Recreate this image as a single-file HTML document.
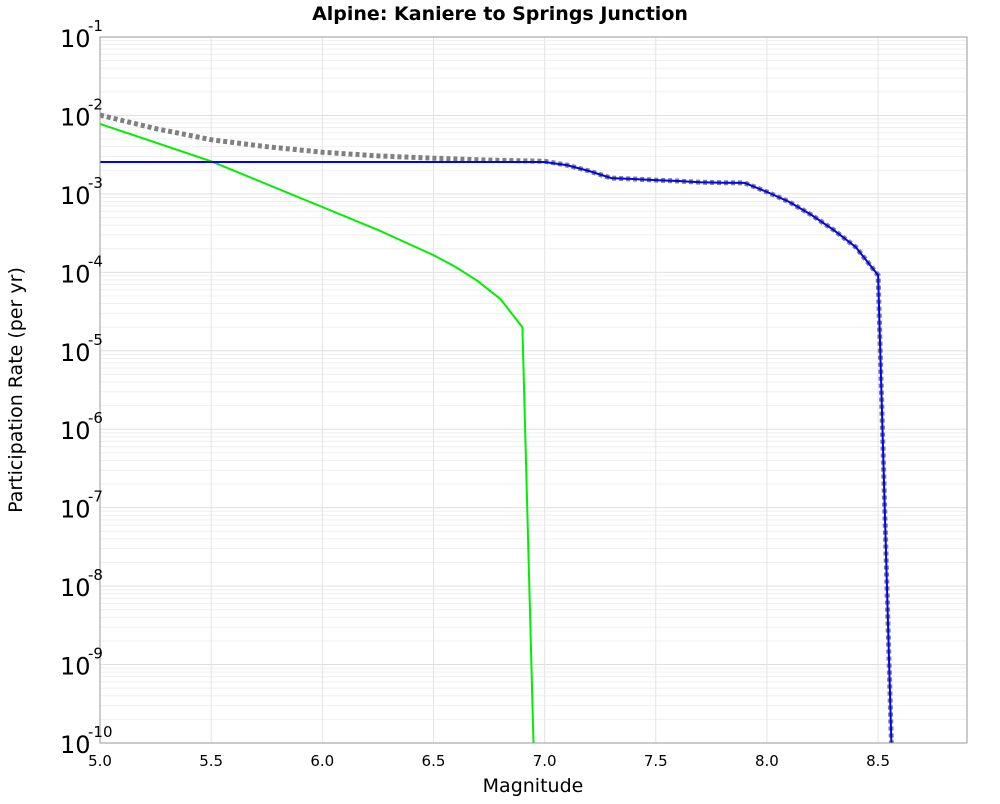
<!DOCTYPE html>
<html><head><meta charset="utf-8"><style>
body{margin:0;background:#fff;font-family:"DejaVu Sans","Liberation Sans",sans-serif}
</style></head><body>
<svg id="chart" width="1000" height="800" xmlns="http://www.w3.org/2000/svg">
<text x="500" y="20" text-anchor="middle" font-size="19" font-weight="bold">Alpine: Kaniere to Springs Junction</text>
<g id="grid"></g>
<g id="series"></g>
<rect x="100" y="37" width="867" height="706" fill="none" stroke="#999" stroke-width="1"/>
<g id="ticks"></g>
<text x="533" y="792" text-anchor="middle" font-size="19">Magnitude</text>
<text transform="translate(22,390) rotate(-90)" text-anchor="middle" font-size="19">Participation Rate (per yr)</text>
</svg>
<script>
const xTicks=[5.0,5.5,6.0,6.5,7.0,7.5,8.0,8.5];
const yTickExps=[-1,-2,-3,-4,-5,-6,-7,-8,-9,-10];
const blueMags=[5.0,7.0,7.1,7.2,7.3,7.4,7.5,7.6,7.7,7.8,7.9,8.0,8.1,8.2,8.3,8.4,8.5,8.56];
const blueRates=[2.55e-3,2.55e-3,2.33e-3,1.96e-3,1.59e-3,1.55e-3,1.5e-3,1.46e-3,1.41e-3,1.39e-3,1.38e-3,1.06e-3,7.9e-4,5.4e-4,3.47e-4,2.1e-4,9.2e-5,1e-10];
const grayMags=[5.0,5.25,5.5,5.75,6.0,6.25,6.5,6.75,7.0,7.1,7.2,7.3,7.4,7.5,7.6,7.7,7.8,7.9,8.0,8.1,8.2,8.3,8.4,8.5,8.56];
const grayRates=[1.01e-2,6.8e-3,4.9e-3,4.0e-3,3.4e-3,3.05e-3,2.85e-3,2.7e-3,2.6e-3,2.33e-3,1.96e-3,1.59e-3,1.55e-3,1.5e-3,1.46e-3,1.41e-3,1.39e-3,1.38e-3,1.06e-3,7.9e-4,5.4e-4,3.47e-4,2.1e-4,9.2e-5,1e-10];
const greenMags=[5.0,5.5,6.0,6.25,6.5,6.6,6.7,6.8,6.9,6.95];
const greenRates=[7.8e-3,2.6e-3,6.8e-4,3.47e-4,1.66e-4,1.17e-4,7.7e-5,4.6e-5,2.0e-5,1e-10];

const X0=100,X1=967,Y0=37,Y1=743,xmin=5.0,xmax=8.9,lmax=-1,lmin=-10;
const sx=m=>X0+(m-xmin)/(xmax-xmin)*(X1-X0);
const sy=v=>Y0+(lmax-Math.log10(v))/(lmax-lmin)*(Y1-Y0);
const NS="http://www.w3.org/2000/svg";
function mk(tag,parent){const e=document.createElementNS(NS,tag);document.getElementById(parent).appendChild(e);return e;}
for(let e=-10;e<-1;e++){for(let k=1;k<10;k++){const y=sy(k*Math.pow(10,e));const l=mk('line','grid');


l.setAttribute('x1',X0);l.setAttribute('x2',X1);l.setAttribute('y1',y);l.setAttribute('y2',y);l.setAttribute('stroke',k==1?'#e0e0e0':'#efefef');l.setAttribute('stroke-width','1');}}
for(let m=5.0;m<8.95;m+=0.5){const x=sx(m);const l=mk('line','grid');


l.setAttribute('x1',x);l.setAttribute('x2',x);l.setAttribute('y1',Y0);l.setAttribute('y2',Y1);l.setAttribute('stroke','#e4e4e4');}
xTicks.forEach(m=>{const t=mk('text','ticks');


t.setAttribute('x',sx(m));t.setAttribute('y',766);t.setAttribute('text-anchor','middle');t.setAttribute('font-size','15');t.textContent=m.toFixed(1);});
yTickExps.forEach(e=>{const y=sy(Math.pow(10,e));const t=mk('text','ticks');


t.setAttribute('x',60);t.setAttribute('y',y+10);t.setAttribute('font-size','24');t.textContent='10';
const s=mk('text','ticks');


s.setAttribute('x',88);s.setAttribute('y',y-6);s.setAttribute('font-size','15');s.textContent=String(e);});
function line(mags,rates,color,w,dash,name){const p=mk('polyline','series');


p.setAttribute('points',mags.map((m,i)=>sx(m).toFixed(1)+','+Math.min(sy(rates[i]),Y1+5).toFixed(1)).join(' '));
p.setAttribute('fill','none');p.setAttribute('stroke',color);p.setAttribute('stroke-width',w);if(dash)p.setAttribute('stroke-dasharray',dash);}
line(grayMags,grayRates,'#808080',5,'4,3','total-rate-line');
line(greenMags,greenRates,'#00ee00',2,null,'green-rate-line');
line(blueMags,blueRates,'#0000ff',2,null,'blue-rate-line');
</script>
</body></html>
